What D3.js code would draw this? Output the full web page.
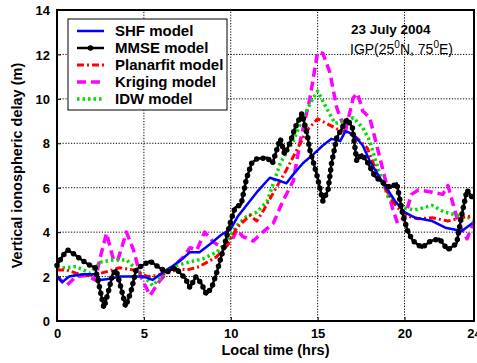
<!DOCTYPE html>
<html>
<head>
<meta charset="utf-8">
<script src="https://cdn.jsdelivr.net/npm/d3@7"></script>
<style>
  html, body { margin: 0; padding: 0; background: #fff; }
  svg { display: block; font-family: Arial, "Liberation Sans", sans-serif; }
</style>
</head>
<body>
<svg id="chart" width="477" height="363"></svg>
<script>
// Local time (hrs) and vertical delay (m) for each model
const shfHours   = [0, 0.3, 0.7, 1.0, 1.5, 2.2, 2.5, 3.05, 3.6, 4.3, 5.0, 5.5, 6.1, 6.7, 7.3, 7.65, 8.2, 8.8, 9.4, 10.0, 10.4, 10.9, 11.5, 12.25, 12.85, 13.2, 13.6, 14.15, 14.75, 15.3, 15.8, 16.3, 16.6, 17.05, 17.6, 18.0, 18.7, 19.45, 20.0, 20.6, 21.6, 22.35, 23.3, 23.9];
const shfDelay   = [2.0, 1.75, 2.0, 2.05, 2.1, 2.1, 1.85, 1.9, 2.0, 2.0, 2.0, 1.85, 2.2, 2.5, 2.85, 3.1, 3.1, 3.45, 3.85, 4.15, 4.7, 5.2, 5.8, 6.45, 6.3, 6.2, 6.6, 7.1, 7.5, 7.9, 8.2, 8.1, 8.55, 8.4, 7.9, 7.2, 6.3, 5.4, 4.9, 4.65, 4.5, 4.2, 4.05, 4.4];

const mmseHours  = [0, 0.3, 0.6, 1.0, 1.5, 1.9, 2.2, 2.45, 2.7, 2.95, 3.2, 3.4, 3.65, 3.95, 4.25, 4.55, 4.9, 5.35, 5.9, 6.3, 6.8, 7.1, 7.4, 7.65, 8.0, 8.3, 8.6, 8.9, 9.2, 9.6, 10.0, 10.25, 10.6, 10.9, 11.2, 11.5, 12.1, 12.4, 12.85, 13.1, 13.4, 13.7, 14.1, 14.4, 14.55, 14.95, 15.3, 15.6, 15.8, 16.1, 16.7, 17.0, 17.25, 17.55, 17.9, 18.3, 18.8, 19.2, 19.55, 19.9, 20.2, 20.5, 21.0, 21.5, 22.0, 22.5, 23.0, 23.3, 23.6, 23.95];
const mmseDelay  = [2.5, 2.9, 3.2, 3.0, 2.7, 2.5, 2.4, 1.5, 0.6, 1.3, 2.1, 2.3, 1.6, 0.65, 1.3, 2.3, 2.5, 2.7, 2.4, 2.2, 2.4, 2.15, 1.9, 1.5, 2.0, 1.7, 1.2, 1.5, 2.2, 3.3, 4.5, 5.1, 5.25, 6.4, 7.1, 7.3, 7.35, 7.1, 8.2, 7.5, 8.0, 8.7, 9.35, 8.4, 7.7, 6.6, 5.4, 5.9, 7.1, 8.25, 9.1, 8.7, 7.2, 7.5, 7.1, 6.5, 6.2, 6.0, 6.2, 4.8, 4.0, 3.6, 3.3, 3.6, 3.7, 3.2, 3.5, 4.8, 5.9, 5.5];

const planarHours = [0, 0.55, 1.1, 1.7, 2.5, 3.0, 3.6, 4.4, 5.2, 5.75, 6.5, 7.1, 7.5, 8.2, 9.2, 9.8, 10.35, 11.1, 11.5, 11.9, 12.4, 13.2, 13.8, 14.4, 15.0, 15.5, 16.1, 16.7, 17.25, 17.85, 18.5, 19.3, 20.0, 20.8, 21.6, 22.5, 23.3, 24];
const planarDelay = [2.3, 2.3, 2.15, 2.05, 2.15, 2.25, 2.4, 2.3, 2.0, 2.05, 2.2, 2.35, 2.3, 2.45, 2.9, 3.4, 4.2, 4.75, 4.5, 5.0, 5.7, 6.8, 7.7, 8.6, 9.1, 8.9, 8.65, 8.5, 8.25, 7.8, 6.5, 5.4, 4.75, 4.6, 4.65, 4.5, 4.65, 4.75];

const krigHours  = [0, 0.55, 1.1, 1.7, 2.2, 2.5, 2.85, 3.25, 3.5, 4.0, 4.4, 4.8, 5.35, 5.9, 6.5, 6.9, 7.3, 7.65, 8.05, 8.5, 9.0, 9.5, 10.05, 10.35, 10.7, 11.3, 11.7, 12.45, 13.0, 13.6, 14.0, 14.55, 15.0, 15.3, 15.7, 16.1, 16.6, 17.05, 17.3, 17.6, 18.0, 18.5, 19.3, 19.6, 20.0, 20.4, 20.8, 21.6, 22.2, 22.5, 23.1, 23.6, 24];
const krigDelay  = [2.0, 1.6, 2.0, 2.05, 1.85, 2.9, 3.95, 2.75, 2.75, 4.0, 3.2, 2.05, 1.15, 1.8, 2.3, 2.6, 2.9, 3.3, 3.2, 4.0, 3.55, 3.3, 3.6, 4.1, 3.8, 3.6, 3.9, 4.4, 5.4, 6.3, 8.1, 10.0, 12.1, 12.05, 11.2, 9.6, 8.55, 10.05, 10.25, 9.45, 9.15, 7.6, 5.1, 4.4, 4.65, 5.7, 5.9, 5.8, 5.7, 6.1, 4.4, 3.7, 4.5];

const idwHours   = [0, 0.55, 1.1, 1.9, 2.5, 3.25, 4.0, 4.6, 5.2, 5.5, 6.1, 6.9, 7.6, 8.4, 9.2, 9.8, 10.35, 10.9, 11.5, 12.1, 12.85, 13.6, 14.15, 14.75, 15.0, 15.5, 16.0, 16.7, 17.05, 17.6, 18.0, 18.5, 19.05, 19.85, 20.6, 21.6, 22.3, 23.1, 24];
const idwDelay   = [2.4, 2.4, 2.45, 2.15, 2.65, 2.75, 2.75, 2.3, 1.85, 1.6, 2.05, 2.5, 2.65, 2.8, 3.1, 3.6, 4.3, 4.7, 4.9, 5.4, 7.1, 8.1, 9.15, 10.05, 10.35, 9.6, 8.9, 9.0, 9.15, 8.7, 8.1, 6.8, 5.6, 5.1, 5.0, 5.2, 4.9, 4.75, 4.6];

const xTicks = [0, 5, 10, 15, 20, 24];
const yTicks = [0, 2, 4, 6, 8, 10, 12, 14];
const legendNames = ['SHF model', 'MMSE model', 'Planarfit model', 'Kriging model', 'IDW model'];

const series = [
  { name: legendNames[0], hours: shfHours, delay: shfDelay, color: '#0000ff', width: 2.5, dash: null },
  { name: legendNames[1], hours: mmseHours, delay: mmseDelay, color: '#000000', width: 2.5, dash: null, markers: true },
  { name: legendNames[2], hours: planarHours, delay: planarDelay, color: '#ff0000', width: 3, dash: '7 3 2 3' },
  { name: legendNames[3], hours: krigHours, delay: krigDelay, color: '#ff00ff', width: 3.5, dash: '9 5' },
  { name: legendNames[4], hours: idwHours, delay: idwDelay, color: '#00dd00', width: 3.5, dash: '2.5 3' }
];

const margin = { left: 57, right: 3, top: 10, bottom: 42 };
const W = 477, H = 363;

const svg = d3.select('#chart');

const x = d3.scaleLinear().domain([0, 24]).range([margin.left, W - margin.right]);
const y = d3.scaleLinear().domain([0, 14]).range([H - margin.bottom, margin.top]);

// Dotted grid
const grid = svg.append('g').attr('class', 'grid')
  .attr('stroke', '#000').attr('stroke-width', 1).attr('stroke-dasharray', '1.2 1.6');
grid.selectAll('line.gx')
  .data(xTicks.filter(d => d > 0 && d < 24))
  .enter().append('line')
  .attr('x1', d => x(d)).attr('x2', d => x(d))
  .attr('y1', y(0)).attr('y2', y(14));
grid.selectAll('line.gy')
  .data(yTicks.filter(d => d > 0 && d < 14))
  .enter().append('line')
  .attr('x1', x(0)).attr('x2', x(24))
  .attr('y1', d => y(d)).attr('y2', d => y(d));

// Series lines
const line = d3.line()
  .x(d => x(d[0]))
  .y(d => y(d[1]));

const lines = svg.append('g').attr('class', 'lines');
// draw order: kriging, idw, planar, shf, mmse
[3, 4, 2, 0, 1].forEach(k => {
  const s = series[k];
  const pts = s.hours.map((h, i) => [h, s.delay[i]]);
  lines.append('path')
    .datum(pts)
    .attr('fill', 'none')
    .attr('stroke', s.color)
    .attr('stroke-width', s.width)
    .attr('stroke-dasharray', s.dash)
    .attr('stroke-linejoin', 'round')
    .attr('d', line);
  if (s.markers) {
    // beaded dot markers along the MMSE line
    lines.append('path')
      .datum(pts)
      .attr('fill', 'none')
      .attr('stroke', s.color)
      .attr('stroke-width', 5.5)
      .attr('stroke-linecap', 'round')
      .attr('stroke-dasharray', '0 6.5')
      .attr('d', line);
  }
});

// Axes box
svg.append('rect')
  .attr('x', x(0)).attr('y', y(14))
  .attr('width', x(24) - x(0)).attr('height', y(0) - y(14))
  .attr('fill', 'none').attr('stroke', '#000').attr('stroke-width', 2);

// Axes with inward ticks
const xAxis = svg.append('g')
  .attr('transform', `translate(0,${y(0)})`)
  .call(d3.axisBottom(x).tickValues(xTicks).tickSize(-4).tickPadding(8));
const yAxis = svg.append('g')
  .attr('transform', `translate(${x(0)},0)`)
  .call(d3.axisLeft(y).tickValues(yTicks).tickSize(-4).tickPadding(7));
[xAxis, yAxis].forEach(a => {
  a.select('.domain').remove();
  a.selectAll('line').attr('stroke', '#000').attr('stroke-width', 1);
  a.selectAll('text')
    .attr('font-size', '13px').attr('font-weight', 'bold')
    .attr('font-family', 'Arial, "Liberation Sans", sans-serif')
    .attr('fill', '#000');
});
yAxis.selectAll('text').attr('dy', '0.36em');

// Axis titles
svg.append('text')
  .attr('x', (x(0) + x(24)) / 2 + 10).attr('y', 355)
  .attr('text-anchor', 'middle')
  .attr('font-size', '14.5px').attr('font-weight', 'bold')
  .text('Local time (hrs)');
svg.append('text')
  .attr('transform', `translate(22,${(y(0) + y(14)) / 2}) rotate(-90)`)
  .attr('text-anchor', 'middle')
  .attr('font-size', '14.5px').attr('font-weight', 'bold')
  .text('Vertical ionospheric delay (m)');

// Annotation
svg.append('text')
  .attr('x', 351).attr('y', 34)
  .attr('font-size', '13.5px').attr('font-weight', 'bold')
  .text('23 July 2004');
const igp = svg.append('text')
  .attr('x', 350).attr('y', 54)
  .attr('font-size', '14px');
igp.append('tspan').text('IGP(25');
igp.append('tspan').attr('dy', -6).attr('font-size', '10px').text('0');
igp.append('tspan').attr('dy', 6).text('N, 75');
igp.append('tspan').attr('dy', -6).attr('font-size', '10px').text('0');
igp.append('tspan').attr('dy', 6).text('E)');

// Legend
const legend = svg.append('g').attr('transform', 'translate(68,19)');
legend.append('rect')
  .attr('width', 159).attr('height', 91)
  .attr('fill', '#fff').attr('stroke', '#000').attr('stroke-width', 1);
const rows = legend.selectAll('g.row')
  .data(series)
  .enter().append('g')
  .attr('transform', (d, i) => `translate(0,${12 + i * 17})`);
rows.append('line')
  .attr('x1', 9).attr('x2', 36).attr('y1', 0).attr('y2', 0)
  .attr('stroke', d => d.color)
  .attr('stroke-width', d => d.width)
  .attr('stroke-dasharray', d => d.dash);
rows.filter(d => d.markers).append('circle')
  .attr('cx', 22.5).attr('cy', 0).attr('r', 2.8).attr('fill', '#000');
rows.append('text')
  .attr('x', 47).attr('y', 0).attr('dy', '0.36em')
  .attr('font-size', '15px').attr('font-weight', 'bold')
  .text(d => d.name);
</script>
</body>
</html>
